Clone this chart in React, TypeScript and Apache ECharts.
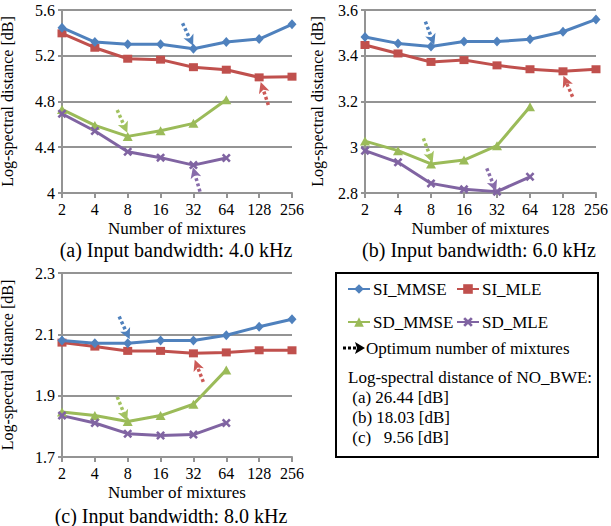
import React, { useEffect, useRef } from "react";
import * as echarts from "echarts";

const mixtures = ["2", "4", "8", "16", "32", "64", "128", "256"];

const a_SI_MMSE = [5.445, 5.32, 5.3, 5.3, 5.262, 5.32, 5.346, 5.475];
const a_SI_MLE = [5.396, 5.27, 5.174, 5.166, 5.1, 5.078, 5.011, 5.017];
const a_SD_MMSE = [4.731, 4.591, 4.495, 4.545, 4.609, 4.816];
const a_SD_MLE = [4.693, 4.542, 4.361, 4.309, 4.244, 4.306];

const b_SI_MMSE = [3.482, 3.454, 3.44, 3.462, 3.462, 3.472, 3.505, 3.559];
const b_SI_MLE = [3.447, 3.41, 3.373, 3.381, 3.358, 3.341, 3.332, 3.341];
const b_SD_MMSE = [3.027, 2.985, 2.927, 2.944, 3.007, 3.177];
const b_SD_MLE = [2.985, 2.934, 2.842, 2.816, 2.806, 2.871];

const c_SI_MMSE = [2.08, 2.071, 2.071, 2.08, 2.08, 2.097, 2.125, 2.149];
const c_SI_MLE = [2.073, 2.06, 2.046, 2.046, 2.038, 2.041, 2.048, 2.048];
const c_SD_MMSE = [1.847, 1.835, 1.816, 1.835, 1.872, 1.984];
const c_SD_MLE = [1.835, 1.811, 1.776, 1.77, 1.773, 1.811];

// optimum-number arrows: [fromIndex, fromValue, toIndex, toValue]
const a_arrows = {
  SI_MMSE: [3.67, 5.484, 3.92, 5.33],
  SI_MLE: [6.28, 4.77, 6.1, 4.925],
  SD_MMSE: [1.68, 4.726, 1.92, 4.57],
  SD_MLE: [4.2, 4.012, 4.03, 4.18],
};
const b_arrows = {
  SI_MMSE: [1.83, 3.549, 2.04, 3.47],
  SI_MLE: [6.29, 3.221, 6.08, 3.29],
  SD_MMSE: [1.77, 3.039, 1.99, 2.955],
  SD_MLE: [3.69, 2.908, 3.91, 2.83],
};
const c_arrows = {
  SI_MMSE: [1.74, 2.158, 1.99, 2.1],
  SI_MLE: [4.3, 1.945, 4.1, 2.0],
  SD_MMSE: [1.68, 1.896, 1.92, 1.834],
  SD_MLE: [3.29, 1.683, 3.1, 1.745],
};

const yRanges = [
  { min: 4, max: 5.6, interval: 0.4 },
  { min: 2.8, max: 3.6, interval: 0.2 },
  { min: 1.7, max: 2.3, interval: 0.2 },
];

const captions = [
  "(a) Input bandwidth: 4.0 kHz",
  "(b) Input bandwidth: 6.0 kHz",
  "(c) Input bandwidth: 8.0 kHz",
];

const noBweLines = [
  "Log-spectral distance of NO_BWE:",
  " (a) 26.44 [dB]",
  " (b) 18.03 [dB]",
  " (c)   9.56 [dB]",
];

const COLORS: Record<string, string> = {
  SI_MMSE: "#4F81BD",
  SI_MLE: "#C0504D",
  SD_MMSE: "#9BBB59",
  SD_MLE: "#8064A2",
};
const ARROW_COLORS: Record<string, string> = {
  SI_MMSE: "#4F81BD",
  SI_MLE: "#CC5A57",
  SD_MMSE: "#A2C260",
  SD_MLE: "#886CAA",
};
const SYMBOLS: Record<string, string> = {
  SI_MMSE: "diamond",
  SI_MLE: "rect",
  SD_MMSE: "triangle",
  SD_MLE: "path://M0,2 L2,0 L5,3 L8,0 L10,2 L7,5 L10,8 L8,10 L5,7 L2,10 L0,8 L3,5 Z",
};
const SYMBOL_SIZES: Record<string, number | number[]> = {
  SI_MMSE: [9, 10],
  SI_MLE: [9, 8],
  SD_MMSE: [10, 9],
  SD_MLE: 9,
};
const ARROW_HEAD = "path://M5,0 L10,10 L5,7.5 L0,10 Z";

const FONT = "Liberation Serif";

export default function App() {
  const ref = useRef<HTMLDivElement>(null);
  useEffect(() => {
    if (!ref.current) return;
    const chart = echarts.init(ref.current, undefined, { renderer: "svg" });

    const gridBoxes = [
      { left: 62, top: 10, width: 230, height: 183 },
      { left: 365, top: 10, width: 231, height: 183 },
      { left: 62, top: 273, width: 230, height: 184 },
    ];
    const datasets = [
      { SI_MMSE: a_SI_MMSE, SI_MLE: a_SI_MLE, SD_MMSE: a_SD_MMSE, SD_MLE: a_SD_MLE },
      { SI_MMSE: b_SI_MMSE, SI_MLE: b_SI_MLE, SD_MMSE: b_SD_MMSE, SD_MLE: b_SD_MLE },
      { SI_MMSE: c_SI_MMSE, SI_MLE: c_SI_MLE, SD_MMSE: c_SD_MMSE, SD_MLE: c_SD_MLE },
    ];
    const arrowSets = [a_arrows, b_arrows, c_arrows];
    const names = ["SI_MMSE", "SI_MLE", "SD_MMSE", "SD_MLE"];

    const axisColor = "#949494";
    const grid = gridBoxes.map((g) => ({ ...g, outerBoundsMode: "none", containLabel: false }));
    const xAxis = gridBoxes.map((_, i) => ({
      type: "value",
      gridIndex: i,
      min: 0,
      max: 7,
      interval: 1,
      name: "Number of mixtures",
      nameLocation: "middle",
      nameGap: 27,
      nameTextStyle: { fontFamily: FONT, fontSize: 17, color: "#000" },
      axisLine: { show: true, lineStyle: { color: axisColor, width: 2 } },
      axisTick: { show: true, length: 5, lineStyle: { color: axisColor, width: 2 } },
      axisLabel: {
        fontFamily: FONT,
        fontSize: 16,
        color: "#000",
        margin: 8,
        formatter: (v: number) => mixtures[Math.round(v)] ?? "",
      },
      splitLine: { show: false },
    }));
    const yAxis = gridBoxes.map((_, i) => ({
      type: "value",
      gridIndex: i,
      min: yRanges[i].min,
      max: yRanges[i].max,
      interval: yRanges[i].interval,
      name: "Log-spectral distance [dB]",
      nameLocation: "middle",
      nameGap: i === 1 ? 40 : 47,
      nameTextStyle: { fontFamily: FONT, fontSize: 16, color: "#000" },
      axisLine: { show: true, lineStyle: { color: axisColor, width: 2 } },
      axisTick: { show: true, length: 4, lineStyle: { color: axisColor, width: 2 } },
      axisLabel: { fontFamily: FONT, fontSize: 16, color: "#000", margin: 7 },
      splitLine: { show: true, lineStyle: { color: axisColor, width: 2 } },
    }));

    const series: any[] = [];
    datasets.forEach((ds: any, gi) => {
      names.forEach((n) => {
        const vals: number[] = ds[n];
        const arr: number[] = (arrowSets[gi] as any)[n];
        series.push({
          type: "line",
          name: n,
          xAxisIndex: gi,
          yAxisIndex: gi,
          clip: false,
          data: vals.map((v, k) => [k, v]),
          symbol: SYMBOLS[n],
          symbolSize: SYMBOL_SIZES[n],
          showAllSymbol: true,
          lineStyle: { color: COLORS[n], width: 3 },
          itemStyle: { color: COLORS[n] },
          z: n === "SI_MMSE" ? 4 : 3,
          markLine: {
            silent: true,
            animation: false,
            symbol: ["none", ARROW_HEAD],
            symbolSize: 11,
            label: { show: false },
            lineStyle: { type: [3, 2.5], width: 3.5, color: ARROW_COLORS[n] },
            itemStyle: { color: ARROW_COLORS[n] },
            emphasis: { disabled: true },
            data: [[{ coord: [arr[0], arr[1]] }, { coord: [arr[2], arr[3]] }]],
          },
        });
      });
    });

    const legendCommon = {
      orient: "vertical",
      top: 274,
      itemWidth: 22,
      itemHeight: 12,
      itemGap: 13,
      selectedMode: false,
      textStyle: { fontFamily: FONT, fontSize: 17, color: "#000", lineHeight: 20, padding: [0, 0, 0, -2] },
    };

    const graphic: any[] = [
      {
        type: "rect",
        shape: { x: 336, y: 273, width: 262, height: 184 },
        style: { fill: "none", stroke: "#000", lineWidth: 2 },
        z: 0,
      },
      {
        type: "line",
        shape: { x1: 343, y1: 348, x2: 356, y2: 348 },
        style: { stroke: "#000", lineWidth: 3, lineDash: [3, 2] },
      },
      {
        type: "polygon",
        shape: { points: [[355, 342], [365, 348], [355, 354], [357, 348]] },
        style: { fill: "#000" },
      },
      {
        type: "text",
        x: 366,
        y: 348,
        style: { text: "Optimum number of mixtures", font: `17px "${FONT}"`, fill: "#000", verticalAlign: "middle" },
      },
      ...noBweLines.map((t, i) => ({
        type: "text",
        x: 348,
        y: 377 + i * 20,
        style: { text: t, font: `17px "${FONT}"`, fill: "#000", verticalAlign: "middle" },
      })),
      ...captions.map((t, i) => ({
        type: "text",
        x: [176, 479, 171][i],
        y: [250, 250, 516][i],
        style: {
          text: t,
          font: `20px "${FONT}"`,
          fill: "#000",
          align: "center",
          verticalAlign: "middle",
        },
      })),
    ];

    chart.setOption({
      animation: false,
      textStyle: { fontFamily: FONT },
      grid,
      xAxis,
      yAxis,
      legend: [
        { ...legendCommon, left: 342, data: ["SI_MMSE", "SD_MMSE"] },
        { ...legendCommon, left: 451, data: ["SI_MLE", "SD_MLE"] },
      ],
      series,
      graphic,
    });
    return () => chart.dispose();
  }, []);

  return (
    <div
      ref={ref}
      style={{ position: "fixed", left: 0, top: 0, width: 611, height: 526, background: "#fff" }}
    />
  );
}
